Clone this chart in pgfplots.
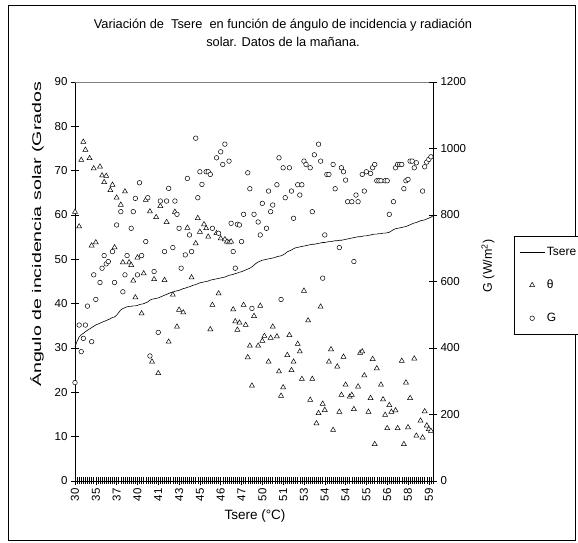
\documentclass[border=0pt]{standalone}
\usepackage{pgfplots}
\usepackage{pgfplotstable}
\pgfplotsset{compat=1.18}
\usepackage{fontspec}
\setmainfont{Liberation Sans}
\usepackage{graphicx}

% Tsere (left axis, degC) per reading
\pgfplotstableread{
i t
0 30.3
1 31.5
2 32.5
3 33.0
4 33.3
5 33.7
6 34.0
7 34.3
8 34.6
9 34.9
10 35.2
11 35.4
12 35.6
13 35.8
14 36.0
15 36.2
16 36.4
17 36.6
18 36.9
19 37.0
20 37.4
21 38.0
22 38.6
23 38.9
24 39.1
25 39.3
26 39.4
27 39.4
28 39.5
29 39.5
30 39.6
31 39.8
32 39.9
33 40.0
34 40.2
35 40.4
36 40.8
37 41.0
38 41.1
39 41.2
40 41.3
41 41.5
42 41.7
43 41.9
44 42.1
45 42.3
46 42.5
47 42.6
48 42.8
49 42.9
50 43.0
51 43.2
52 43.4
53 43.5
54 43.7
55 43.8
56 44.0
57 44.2
58 44.3
59 44.5
60 44.7
61 44.8
62 44.9
63 45.0
64 45.1
65 45.3
66 45.4
67 45.5
68 45.6
69 45.7
70 45.8
71 45.9
72 46.0
73 46.2
74 46.4
75 46.5
76 46.6
77 46.8
78 46.9
79 47.1
80 47.2
81 47.4
82 47.6
83 47.8
84 48.0
85 48.3
86 48.7
87 49.1
88 49.4
89 49.6
90 49.8
91 49.9
92 50.0
93 50.1
94 50.2
95 50.3
96 50.4
97 50.6
98 50.7
99 50.8
100 51.0
101 51.3
102 51.7
103 51.9
104 52.1
105 52.4
106 52.6
107 52.7
108 52.8
109 52.9
110 53.0
111 53.1
112 53.2
113 53.3
114 53.4
115 53.4
116 53.5
117 53.6
118 53.7
119 53.8
120 53.8
121 53.9
122 54.0
123 54.0
124 54.1
125 54.2
126 54.2
127 54.3
128 54.3
129 54.4
130 54.5
131 54.6
132 54.7
133 54.8
134 54.9
135 55.0
136 55.1
137 55.1
138 55.2
139 55.3
140 55.3
141 55.4
142 55.5
143 55.6
144 55.7
145 55.7
146 55.8
147 55.8
148 55.9
149 55.9
150 56.0
151 56.1
152 56.4
153 56.7
154 56.9
155 57.0
156 57.1
157 57.2
158 57.3
159 57.4
160 57.6
161 57.8
162 58.0
163 58.2
164 58.3
165 58.5
166 58.7
167 58.8
168 58.9
169 59.1
170 59.3
171 59.5
172 59.8
}\tseretable

% incidence angle theta (left axis, degrees)
\pgfplotstableread{
i th
0 60.7
2 57.4
3 72.4
4 76.5
5 74.7
7 72.8
8 53.1
9 70.5
10 53.8
12 70.9
13 68.9
14 67.4
15 68.8
17 65.6
18 66.8
19 52.7
20 63.9
22 62.3
23 49.3
24 65.3
26 49.3
27 48.7
28 45.2
29 41.4
30 50.4
32 37.8
33 46.8
34 63.4
36 60.8
37 26.9
38 45.5
39 59.5
40 24.3
41 62.0
43 45.3
44 58.4
45 31.4
47 42.0
48 60.7
49 34.8
50 38.6
52 38.0
54 57.1
56 45.9
58 53.6
59 59.3
60 56.2
62 57.9
63 57.0
64 55.1
65 34.2
66 39.7
68 55.9
69 42.3
70 54.7
72 54.5
73 54.0
74 53.8
75 54.0
76 38.7
77 36.0
78 34.1
79 35.7
81 39.7
82 35.2
83 27.9
84 30.5
85 21.5
86 37.2
88 30.5
89 39.5
90 31.6
91 32.7
93 26.9
94 32.3
95 34.8
97 32.6
98 24.7
99 19.2
100 21.1
102 28.4
103 32.9
104 25.0
105 26.9
107 30.9
108 29.2
109 23.0
110 42.9
112 36.2
113 18.3
114 23.0
116 13.0
117 15.3
118 39.3
119 17.4
120 16.0
122 26.9
123 29.7
124 11.5
126 25.8
127 15.6
128 19.4
129 28.0
130 21.7
132 19.0
133 19.4
134 16.2
136 21.3
137 28.9
138 29.2
139 23.8
141 15.6
142 18.7
143 27.5
144 8.3
145 25.4
147 21.7
148 18.4
149 14.9
150 11.9
151 17.1
152 15.6
154 15.9
155 11.9
157 27.1
158 8.3
159 22.2
160 12.1
161 18.7
163 27.6
164 10.2
166 13.6
167 9.8
168 15.7
169 12.5
170 11.7
171 11.3
}\thetatable

% solar radiation G (right axis, W/m2)
\pgfplotstableread{
i g
0 296
2 469
3 389
4 429
5 469
6 526
8 419
9 620
10 546
12 597
13 640
14 678
15 653
16 660
18 690
19 597
20 770
22 810
23 569
24 620
25 678
27 760
28 810
29 850
30 620
31 897
32 678
34 720
35 852
36 376
38 630
40 447
41 842
43 690
44 842
45 880
47 702
48 842
49 802
50 760
51 640
53 680
54 910
55 740
56 690
58 1031
59 852
60 930
61 892
63 930
64 930
65 922
66 760
68 972
69 745
70 990
71 952
72 1013
74 962
75 775
76 690
77 640
78 772
79 770
80 720
81 802
83 927
84 879
85 519
86 802
88 779
89 740
90 835
92 760
93 872
94 810
95 830
97 891
98 972
99 546
100 942
101 852
103 942
104 872
105 790
107 891
108 860
109 891
110 962
111 952
113 942
114 810
115 981
117 1013
118 962
119 610
120 740
121 922
122 922
124 952
125 879
127 702
128 942
129 930
130 905
131 840
133 840
134 660
135 860
136 840
138 922
139 872
140 930
142 925
143 942
144 952
145 903
146 903
147 903
149 903
150 903
151 802
153 840
154 942
155 952
156 952
157 952
158 879
159 903
160 907
161 962
162 962
163 942
164 957
167 872
168 945
169 959
170 967
171 975
}\gtable

\pgfplotsset{
  excelaxis/.style={
    at={(75pt,62pt)}, anchor=south west,
    scale only axis, width=358pt, height=399pt,
    xmin=0, xmax=172,
    clip=false,
    tick align=center,
    major tick length=8pt, minor tick length=7pt,
    every tick/.style={black, line width=0.5pt},
    axis line style={black, line width=0.7pt},
    /pgf/number format/assume math mode=true,
    /pgf/number format/1000 sep={},
    ticklabel style={font=\fontsize{11.5}{13}\selectfont},
  },
  linekey/.style={legend image code/.code={\draw[##1] (0pt,0pt) -- (25pt,0pt);}},
  markkey/.style={legend image code/.code={\draw[##1] plot coordinates {(12.5pt,0pt)};}},
  thetamarks/.style={only marks, mark=triangle*, mark size=2.9pt,
    mark options={draw=black, fill=white, line width=0.5pt}},
  gmarks/.style={only marks, mark=*, mark size=2.3pt,
    mark options={draw=black, fill=white, line width=0.5pt}},
}

\begin{document}
\begin{tikzpicture}
\path[use as bounding box] (0pt,0pt) rectangle (578pt,543pt);
\fill[white] (0pt,0pt) rectangle (578pt,543pt);
\draw[black, line width=0.9pt] (8pt,3pt) rectangle (575pt,538pt);

\node[align=center, font=\fontsize{12.8}{18}\selectfont] at (283pt,510pt)
  {Variación de\ \ Tsere\ \ en función de ángulo de incidencia y radiación\\ solar. Datos de la mañana.};

% primary axis: Tsere line and incidence angle
\begin{axis}[excelaxis,
  ymin=0, ymax=90,
  axis x line*=bottom, axis y line*=left,
  xtick={0,10,...,170},
  xticklabels={30,35,37,40,41,43,45,46,47,50,51,53,54,54,55,56,58,59},
  minor xtick={0,1,...,172},
  ytick={0,10,...,90},
  x tick label style={rotate=90, anchor=east},
  xlabel={Tsere (°C)},
  xlabel style={at={(axis description cs:0.5028,-0.0877)}, anchor=center,
    font=\fontsize{13.5}{15}\selectfont},
  ylabel={\resizebox{305pt}{\height}{Ángulo de incidencia solar (Grados}},
  ylabel style={at={(axis description cs:-0.106,0.618)}, anchor=center, rotate=0,
    font=\fontsize{12.5}{15}\selectfont},
  legend style={at={(1.2263,0.614)}, anchor=north west, draw=black, line width=0.7pt,
    fill=white, font=\fontsize{12}{14}\selectfont, row sep=19pt,
    inner xsep=5pt, inner ysep=9pt, cells={anchor=west}},
  legend cell align=left,
]
\draw[gray, line width=0.7pt] (rel axis cs:0,1) -- (rel axis cs:1,1);
\addplot[black, line width=0.6pt, mark=none, linekey]
  table[x=i, y=t] {\tseretable};
\addlegendentry{Tsere}
\addplot[thetamarks, markkey] table[x=i, y=th] {\thetatable};
\addlegendentry{θ}
\addlegendimage{gmarks, markkey}
\addlegendentry{G}
\end{axis}

% secondary axis: solar radiation
\begin{axis}[excelaxis,
  ymin=0, ymax=1200,
  axis y line*=right, axis x line=none,
  ytick={0,200,...,1200},
  ylabel={G (W/m\textsuperscript{2})},
  ylabel style={at={(axis description cs:1.1536,0.539)}, anchor=center, rotate=0,
    font=\fontsize{12.5}{15}\selectfont},
]
\addplot[gmarks] table[x=i, y=g] {\gtable};
\end{axis}
\end{tikzpicture}
\end{document}
